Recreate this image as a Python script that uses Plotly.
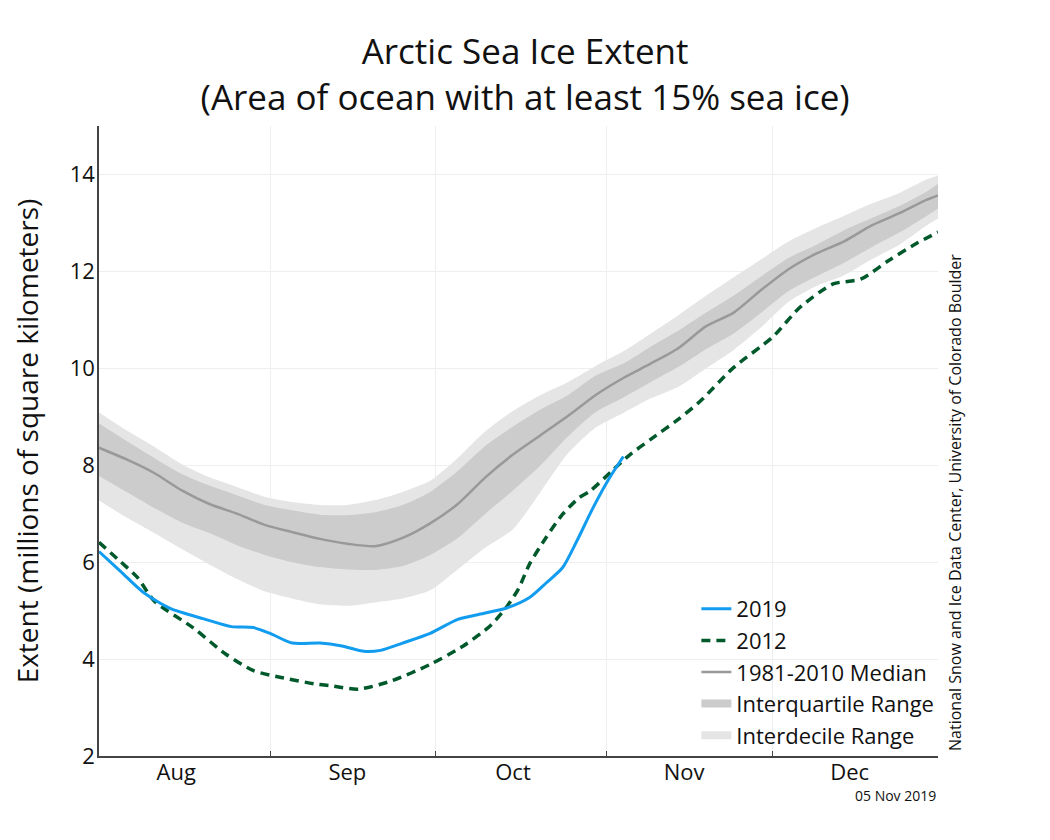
import pandas as pd
import plotly.graph_objects as go

SEASON_START = pd.Timestamp("2019-08-01")

# climatology, sampled every 5 days from Aug 1 (days since Aug 1)
clim_days = [0, 5, 10, 15, 20, 25, 30, 35, 40, 45, 50, 55, 60, 65, 70, 75,
             80, 85, 90, 95, 100, 105, 110, 115, 120, 125, 130, 135, 140, 145, 150, 152]
median_1981_2010 = [8.36, 8.12, 7.84, 7.48, 7.2, 7.0, 6.77, 6.62, 6.48, 6.38, 6.33, 6.5, 6.8,
                    7.2, 7.75, 8.22, 8.62, 9.02, 9.45, 9.8, 10.1, 10.42, 10.87, 11.15, 11.62,
                    12.05, 12.37, 12.62, 12.95, 13.2, 13.48, 13.57]
decile_hi = [9.09, 8.72, 8.38, 8.02, 7.75, 7.55, 7.35, 7.24, 7.18, 7.18, 7.28, 7.45, 7.68,
             8.15, 8.7, 9.12, 9.45, 9.72, 10.05, 10.35, 10.72, 11.1, 11.5, 11.88, 12.25,
             12.62, 12.9, 13.15, 13.4, 13.62, 13.9, 13.98]
quartile_hi = [8.86, 8.5, 8.15, 7.82, 7.58, 7.38, 7.18, 7.07, 6.98, 6.97, 7.03, 7.18, 7.45,
               7.88, 8.4, 8.8, 9.15, 9.45, 9.85, 10.1, 10.45, 10.78, 11.15, 11.5, 11.9,
               12.28, 12.55, 12.85, 13.1, 13.35, 13.65, 13.81]
quartile_lo = [7.78, 7.45, 7.12, 6.82, 6.6, 6.35, 6.15, 6.0, 5.9, 5.85, 5.84, 5.92, 6.15,
               6.5, 7.0, 7.48, 8.0, 8.6, 9.1, 9.4, 9.72, 10.03, 10.4, 10.72, 11.15,
               11.6, 11.9, 12.18, 12.5, 12.8, 13.15, 13.3]
decile_lo = [7.27, 6.92, 6.6, 6.27, 5.95, 5.65, 5.4, 5.25, 5.13, 5.1, 5.17, 5.25, 5.42,
             5.85, 6.3, 6.68, 7.45, 8.25, 8.78, 9.08, 9.38, 9.62, 10.0, 10.38, 10.85,
             11.38, 11.7, 11.92, 12.25, 12.55, 12.95, 13.09]

days_2019 = [0, 4, 8, 13, 19, 24, 28, 31, 35, 40, 44, 48, 51, 55, 60, 65, 70, 74,
             78, 81, 84, 86.5, 89.5, 92.5, 95]
extent_2019 = [6.22, 5.8, 5.38, 5.04, 4.83, 4.67, 4.65, 4.53, 4.33, 4.33, 4.27, 4.16, 4.18,
               4.33, 4.53, 4.82, 4.95, 5.06, 5.27, 5.57, 5.89, 6.42, 7.12, 7.74, 8.18]

days_2012 = [0, 4, 7, 10, 17, 23, 28, 33, 39, 42, 47, 53, 60, 66, 71, 74, 76, 78, 81,
             84, 87, 89, 93, 96, 100, 105, 109, 115, 122, 127, 133, 138, 143, 148, 152]
extent_2012 = [6.41, 6.0, 5.68, 5.2, 4.65, 4.1, 3.76, 3.62, 3.49, 3.45, 3.38, 3.55, 3.89,
               4.27, 4.7, 5.1, 5.45, 5.96, 6.51, 6.99, 7.33, 7.47, 7.89, 8.2, 8.54, 8.95,
               9.33, 10.02, 10.64, 11.26, 11.74, 11.84, 12.22, 12.57, 12.81]

month_labels = ["Aug", "Sep", "Oct", "Nov", "Dec"]
month_label_dates = ["2019-08-15", "2019-09-15", "2019-10-15", "2019-11-15", "2019-12-15"]
month_starts = ["2019-09-01", "2019-10-01", "2019-11-01", "2019-12-01"]


def to_dates(days):
    return SEASON_START + pd.to_timedelta(days, unit="D")


clim_x = to_dates(clim_days)
FONT = '"Open Sans", verdana, arial, sans-serif'
SMOOTH = {"shape": "spline", "smoothing": 0.7}

fig = go.Figure()

# interdecile band
fig.add_trace(go.Scatter(x=clim_x, y=decile_lo, mode="lines", line={"width": 0, **SMOOTH},
                         showlegend=False, hoverinfo="skip"))
fig.add_trace(go.Scatter(x=clim_x, y=decile_hi, mode="lines", line={"width": 0, **SMOOTH},
                         fill="tonexty", fillcolor="#e5e5e5", showlegend=False))
# interquartile band
fig.add_trace(go.Scatter(x=clim_x, y=quartile_lo, mode="lines", line={"width": 0, **SMOOTH},
                         showlegend=False, hoverinfo="skip"))
fig.add_trace(go.Scatter(x=clim_x, y=quartile_hi, mode="lines", line={"width": 0, **SMOOTH},
                         fill="tonexty", fillcolor="#cccccc", showlegend=False))

fig.add_trace(go.Scatter(x=clim_x, y=median_1981_2010, mode="lines", name="1981-2010 Median",
                         line={"color": "#999999", "width": 2.5, **SMOOTH}, legendrank=3))
fig.add_trace(go.Scatter(x=to_dates(days_2012), y=extent_2012, mode="lines", name="2012",
                         line={"color": "#00592b", "width": 3.5, "dash": "9px,6px", **SMOOTH},
                         legendrank=2))
fig.add_trace(go.Scatter(x=to_dates(days_2019), y=extent_2019, mode="lines", name="2019",
                         line={"color": "#119cf0", "width": 3, **SMOOTH}, legendrank=1))

# legend-only entries so the ranges show as thick bars
fig.add_trace(go.Scatter(x=[None], y=[None], mode="lines", name="Interquartile Range",
                         line={"color": "#cccccc", "width": 8}, legendrank=4))
fig.add_trace(go.Scatter(x=[None], y=[None], mode="lines", name="Interdecile Range",
                         line={"color": "#e5e5e5", "width": 8}, legendrank=5))

fig.update_layout(
    width=1050,
    height=840,
    font={"family": FONT, "size": 22, "color": "#222"},
    paper_bgcolor="white",
    plot_bgcolor="white",
    margin={"l": 91, "r": 120, "t": 118, "b": 92},
    title={"text": "Arctic Sea Ice Extent<br>(Area of ocean with at least 15% sea ice)",
           "x": 0.4925, "xanchor": "center", "y": 0.933, "yanchor": "top",
           "font": {"size": 35, "color": "#111"}},
    legend={"x": 0.712, "y": 0.0, "xanchor": "left", "yanchor": "bottom",
            "traceorder": "normal",
            "bgcolor": "rgba(0,0,0,0)", "font": {"size": 22, "color": "#111"}},
    xaxis={
        "range": ["2019-08-01", "2019-12-31"],
        "tickmode": "array",
        "tickvals": month_label_dates,
        "ticktext": month_labels,
        "ticks": "",
        "ticklabelstandoff": -4,
        "showgrid": False,
        "minor": {"tickmode": "array", "tickvals": month_starts, "ticks": "inside",
                  "ticklen": 5, "tickcolor": "#444", "showgrid": True,
                  "gridcolor": "#eeeeee"},
        "showline": True,
        "linecolor": "#444",
        "linewidth": 1.5,
        "zeroline": False,
        "tickfont": {"size": 22, "color": "#111"},
    },
    yaxis={
        "range": [2, 15],
        "tick0": 0,
        "dtick": 2,
        "showline": True,
        "linecolor": "#444",
        "linewidth": 1.5,
        "showgrid": True,
        "gridcolor": "#eeeeee",
        "zeroline": False,
        "ticks": "",
        "ticklabelstandoff": -2,
        "tickfont": {"size": 22, "color": "#111"},
        "title": {"text": "Extent (millions of square kilometers)",
                  "font": {"size": 28, "color": "#111"}, "standoff": 30},
    },
)

fig.add_annotation(text="National Snow and Ice Data Center, University of Colorado Boulder",
                   xref="paper", yref="paper", x=1.021, y=0.005, xanchor="center",
                   yanchor="bottom", textangle=-90, showarrow=False,
                   font={"size": 16, "color": "#111"})
fig.add_annotation(text="05 Nov 2019", xref="paper", yref="paper", x=1.0, y=-0.062,
                   xanchor="right", yanchor="middle", showarrow=False,
                   font={"size": 14, "color": "#111"})

fig.write_html("out.html")
